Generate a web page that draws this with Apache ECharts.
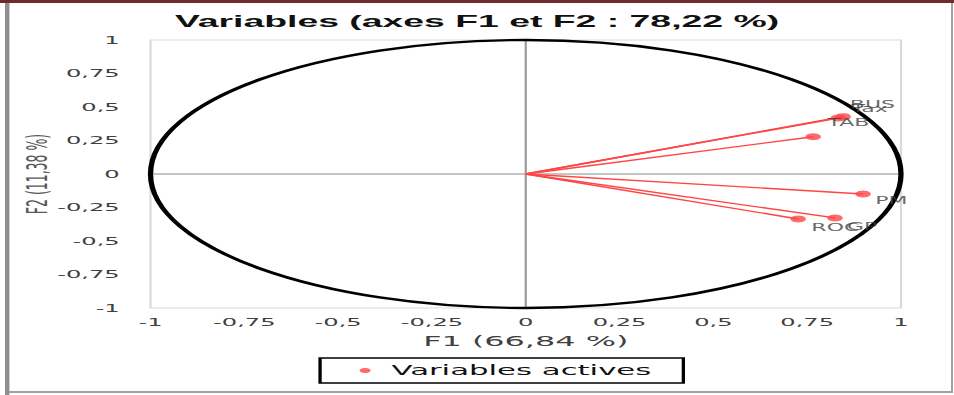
<!DOCTYPE html>
<html><head><meta charset="utf-8">
<script src="https://cdn.jsdelivr.net/npm/echarts/dist/echarts.min.js"></script>
<style>
html,body{margin:0;padding:0;background:#fff;width:954px;height:395px;overflow:hidden;position:relative}
#chart{position:absolute;left:0;top:0;width:434px;height:395px;transform:scaleX(2.19816);transform-origin:0 0}
.fr{position:absolute}
</style></head><body>
<div id="chart"></div>
<div class="fr" style="left:0;top:0;width:954px;height:3px;background:#6e2b2b"></div>
<div class="fr" style="left:5px;top:3px;width:4px;height:392px;background:#8f8f8f"></div>
<div class="fr" style="left:9px;top:3px;width:1px;height:392px;background:#cfcfcf"></div>
<div class="fr" style="left:951px;top:3px;width:2px;height:390px;background:#a0a0a0"></div>
<div class="fr" style="left:9px;top:391px;width:944px;height:2px;background:#a0a0a0"></div>
<script>
// ---- data ----
const variables = ['BUS', 'Tax', 'TAB', 'PM', 'GP', 'ROC'];
const f1 = [0.846, 0.833, 0.766, 0.899, 0.824, 0.726];
const f2 = [0.428, 0.418, 0.278, -0.149, -0.328, -0.336];
const tickValues = [-1, -0.75, -0.5, -0.25, 0, 0.25, 0.5, 0.75, 1];
const tickLabels = ['-1', '-0,75', '-0,5', '-0,25', '0', '0,25', '0,5', '0,75', '1'];
const titleText = 'Variables (axes F1 et F2 : 78,22 %)';
const xName = 'F1 (66,84 %)';
const yName = 'F2 (11,38 %)';
const seriesName = 'Variables actives';

// ---- styling (label offsets in px) ----
const labelOffsets = [[-0.5, -12], [2.5, -10], [3, -14], [2, 7], [2, 9], [2.5, 8]];
const RED = '#ff4545';

function fmt(v) {
  for (let i = 0; i < tickValues.length; i++) if (Math.abs(tickValues[i] - v) < 1e-9) return tickLabels[i];
  return '';
}

const chart = echarts.init(document.getElementById('chart'), null, {renderer: 'svg', width: 434, height: 395});
const axisCommon = {
  type: 'value', min: -1, max: 1, interval: 0.25,
  axisLine: {show: false}, axisTick: {show: false}, splitLine: {show: false},
  nameLocation: 'middle', nameMoveOverlap: false
};
chart.setOption({
  animation: false,
  title: {
    text: titleText, left: 'center', top: 12.5, padding: 0,
    textStyle: {fontFamily: 'Liberation Sans', fontWeight: 'bold', fontSize: 17, color: '#111'}
  },
  grid: {left: 68.47, right: 24.11, top: 40, bottom: 87, show: true, borderColor: '#d9d9d9', borderWidth: 1, containLabel: false, outerBoundsMode: 'none'},
  xAxis: Object.assign({}, axisCommon, {
    name: xName, nameGap: 26,
    nameTextStyle: {fontFamily: 'DejaVu Sans', fontSize: 14.5, color: '#404040'},
    axisLabel: {formatter: fmt, margin: 9, fontFamily: 'DejaVu Sans', fontSize: 11, color: '#404040'}
  }),
  yAxis: Object.assign({}, axisCommon, {
    name: yName, nameGap: 45, nameRotate: 90,
    nameTextStyle: {fontFamily: 'DejaVu Sans', fontSize: 12.5, color: '#595959'},
    axisLabel: {formatter: fmt, margin: 14, fontFamily: 'DejaVu Sans', fontSize: 11, color: '#404040'}
  }),
  legend: {
    data: [seriesName], left: 145.6, top: 358, padding: [5.5, 14.5, 5.5, 18],
    borderColor: '#000', borderWidth: 1.5, itemWidth: 14, itemHeight: 5, icon: 'circle',
    textStyle: {fontFamily: 'DejaVu Sans', fontSize: 14, color: '#111'}
  },
  series: [
    {
      name: 'cercle', type: 'custom', z: 1, silent: true, clip: false,
      data: [[0, 0]],
      renderItem: function (params, api) {
        const c = api.coord([0, 0]);
        const e = api.coord([1, 1]);
        const l = api.coord([-1, -1]);
        return {
          type: 'group',
          children: [
            {type: 'line', shape: {x1: l[0], y1: c[1], x2: e[0], y2: c[1]}, style: {stroke: '#8c8c8c', lineWidth: 1}},
            {type: 'line', shape: {x1: c[0], y1: l[1], x2: c[0], y2: e[1]}, style: {stroke: '#9a9a9a', lineWidth: 1}},
            {type: 'ellipse', shape: {cx: c[0], cy: c[1], rx: e[0] - c[0], ry: c[1] - e[1]}, style: {stroke: '#000', lineWidth: 2.4, fill: null}}
          ]
        };
      }
    },
    {
      name: 'vecteurs', type: 'lines', coordinateSystem: 'cartesian2d', z: 2, silent: true,
      lineStyle: {color: RED, width: 1.4, opacity: 1},
      data: variables.map((n, i) => ({coords: [[0, 0], [f1[i], f2[i]]]}))
    },
    {
      name: seriesName, type: 'scatter', z: 3, symbol: 'circle', symbolSize: 7,
      itemStyle: {color: RED},
      label: {show: true, position: 'right', distance: 0, formatter: '{b}', fontFamily: 'DejaVu Sans', fontSize: 10, color: '#404040'},
      data: variables.map((n, i) => ({name: n, value: [f1[i], f2[i]], label: {offset: labelOffsets[i]}}))
    }
  ]
});
</script>
</body></html>
